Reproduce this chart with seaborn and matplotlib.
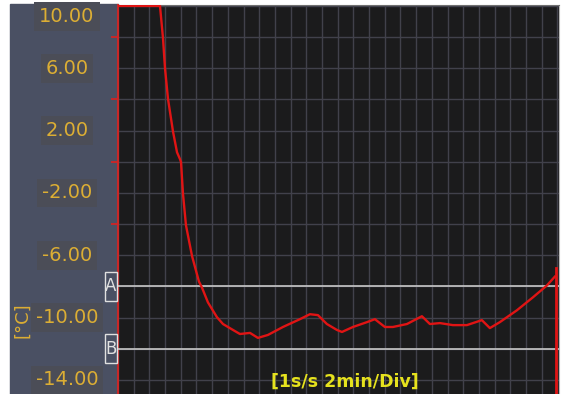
import numpy as np
import pandas as pd
import matplotlib
matplotlib.use("Agg")
import matplotlib.pyplot as plt
from matplotlib.patches import Rectangle
import seaborn as sns

# --- data (minutes, deg C) ---
time_min = [0.0, 5.35, 5.73, 5.99, 6.37, 7.01, 7.52, 7.90, 8.03, 8.28, 8.66,
            9.43, 10.32, 10.70, 11.46, 12.61, 13.38, 14.65, 15.54, 16.82,
            17.83, 19.11, 21.02, 23.18, 24.46, 25.48, 26.62, 27.90, 28.54,
            29.94, 31.72, 32.74, 34.01, 35.03, 36.82, 38.73, 39.75, 41.02,
            42.68, 44.46, 46.37, 47.39, 48.66, 50.83, 52.87, 54.65, 55.67]
temp_c = [10.0, 10.0, 7.96, 6.0, 4.04, 1.94, 0.61, 0.17, -0.02, -2.05, -4.07,
          -6.04, -7.69, -8.07, -9.02, -9.97, -10.41, -10.79, -11.05, -10.98,
          -11.30, -11.11, -10.60, -10.10, -9.78, -9.84, -10.41, -10.79, -10.92,
          -10.60, -10.29, -10.10, -10.60, -10.60, -10.41, -9.91, -10.41, -10.35,
          -10.48, -10.48, -10.16, -10.67, -10.29, -9.53, -8.70, -7.94, -7.37]

y_labels = [10, 6, 2, -2, -6, -10, -14]
red_ticks = [8, 4, 0, -4]
cursor_lines = {"A": -8.0, "B": -12.0}

df = pd.DataFrame({"time": time_min, "temp": temp_c})

panel = "#4a5063"
plot_bg = "#1b1b1c"
gold = "#dcae34"

fig = plt.figure(figsize=(5.62, 3.94), dpi=100)
fig.patch.set_facecolor("white")
fig.add_artist(Rectangle((10 / 562, 0), 108 / 562, 390 / 394,
                         transform=fig.transFigure, color=panel, zorder=-1))

ax = fig.add_axes([118 / 562, 0, 441 / 562, 389 / 394])
ax.set_facecolor(plot_bg)

sns.lineplot(data=df, x="time", y="temp", ax=ax, color="#e01414", lw=1.7, zorder=5)

ax.set_xlim(0, 56.2)
ax.set_ylim(-14.9, 10.06)
ax.set_xticks(np.arange(0, 57, 2))
ax.set_yticks(np.arange(-14, 11, 2))
ax.grid(True, color="#41414b", lw=1)
ax.tick_params(length=0, labelleft=False, labelbottom=False)
ax.set_xlabel("")
ax.set_ylabel("")

ax.spines["left"].set_color("#c82828")
ax.spines["left"].set_linewidth(1.5)
ax.spines["top"].set_color("#707070")
ax.spines["right"].set_color("#b8b8b8")
ax.spines["bottom"].set_visible(False)

ytr = ax.get_yaxis_transform()

# red tick marks on the left axis
ax.hlines(red_ticks, -0.015, 0, transform=ytr, color="#d02424", lw=1.3,
          clip_on=False, zorder=6)

# A / B reference lines
for name, val in cursor_lines.items():
    ax.axhline(val, color="#c8c8c8", lw=1.2, zorder=3)
    ax.add_patch(Rectangle((-0.0295, val - 0.92), 0.027, 1.84, transform=ytr,
                           facecolor=panel, edgecolor="#e0e0e0", lw=1,
                           clip_on=False, zorder=6))
    ax.text(-0.016, val, name, transform=ytr, ha="center", va="center",
            color="#e0e0e0", fontsize=12, clip_on=False, zorder=7)

# current-position cursor
ax.axvline(time_min[-1] + 0.1, ymin=0, ymax=0.325, color="#e01414", lw=2, zorder=6)

# y labels in the side panel (top one nudged down as in the instrument view)
for v in y_labels:
    ypos = min(v, 9.3)
    ax.text(-0.1156, ypos, f"{v:.2f}", transform=ytr, ha="center", va="center",
            color=gold, fontsize=14, clip_on=False,
            bbox=dict(boxstyle="square,pad=0.25", facecolor="#4b4d57",
                      edgecolor="none"))

ax.text(-0.218, 0.19, "[°C]", transform=ax.transAxes, rotation=90,
        ha="center", va="center", color=gold, fontsize=13)
ax.text(0.515, 0.031, "[1s/s 2min/Div]", transform=ax.transAxes,
        ha="center", va="center", color="#e6e21e", fontsize=12.5,
        fontweight="bold", zorder=8)

fig.savefig("out.png", dpi=100, facecolor=fig.get_facecolor())
